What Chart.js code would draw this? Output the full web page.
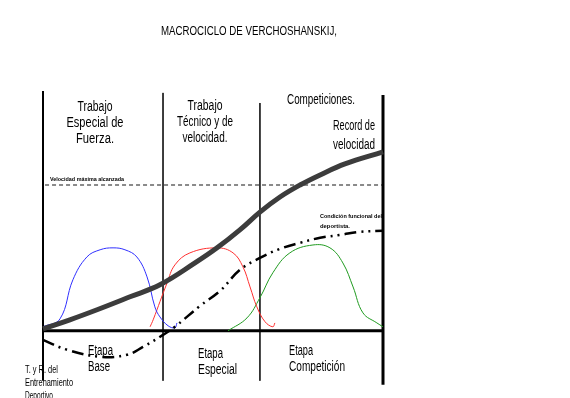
<!DOCTYPE html>
<html lang="es">
<head>
<meta charset="UTF-8">
<title>Macrociclo de Verchoshanskij</title>
<script src="https://cdn.jsdelivr.net/npm/chart.js@4.4.0/dist/chart.umd.min.js"></script>
<style>
  body { margin: 0; background: #fff; }
</style>
</head>
<body>
<canvas id="chart" width="570" height="398"></canvas>
<script>
// x: 0..100 = duración del macrociclo, y: nivel (0 = línea base)
var stageX = [0, 35.3, 63.8, 100];
var maxSpeedY = 60.8;

var speedX = [0, 7.9, 15.9, 25.6, 34.4, 44.7, 51.2, 57.9, 63.8, 69.7, 75.6, 81.5, 88.8, 100];
var speedY = [0.8, 4.6, 8.8, 14.2, 19.2, 28.3, 34.6, 42.1, 49.5, 55.8, 60.8, 65, 69.6, 74.6];

var condX = [0, 7.1, 16.8, 24.7, 29.4, 35.3, 38.8, 46.2, 52.1, 57.9, 63.8, 69.7, 75.6, 81.5, 87.4, 93.2, 100];
var condY = [-3.8, -7.9, -10.8, -10, -6.7, -1.7, 1.7, 10.4, 16.7, 25.4, 30.4, 34.2, 36.7, 38.8, 40, 41.3, 41.7];

var forceX = [0, 5, 8.8, 12.9, 16.8, 20.6, 24.1, 27.6, 30.6, 32.9, 34.4, 36.8, 38.8, 39.4];
var forceY = [1.7, 5, 21.3, 30.8, 33.8, 34.6, 33.8, 30.8, 22.5, 10, 5.8, 2.1, 1.3, 3.3];

var techX = [31.5, 32.4, 36.5, 38.8, 43.2, 51.2, 55.9, 58.8, 60.9, 62.9, 65.3, 67.6, 68.2];
var techY = [1.7, 4.6, 20, 27.5, 32.5, 34.6, 32.5, 26.7, 18.3, 10, 3.8, 1.7, 3.3];

var compX = [54.4, 60, 63.8, 67.6, 72.6, 79.4, 84.4, 88.2, 91.2, 94.1, 98.2, 100];
var compY = [0, 5.4, 13.8, 24.2, 32.5, 35.8, 34.6, 28.3, 18.3, 7.5, 3.3, 1.7];

var title = 'MACROCICLO DE VERCHOSHANSKIJ,';
var workLabels = [['Trabajo', 'Especial de', 'Fuerza.'], ['Trabajo', 'Técnico y de', 'velocidad.'], ['Competiciones.']];
var stageLabels = [['Etapa', 'Base'], ['Etapa', 'Especial'], ['Etapa', 'Competición']];
var recordLabel = ['Record de', 'velocidad'];
var maxSpeedLabel = 'Velocidad máxima alcanzada';
var conditionLabel = ['Condición funcional del', 'deportista.'];
var sourceLabel = ['T. y R. del', 'Entrenamiento', 'Deportivo'];

function pts(xs, ys) {
  return xs.map(function (x, i) { return { x: x, y: ys[i] }; });
}

function seg(x1, y1, x2, y2, color, width, order) {
  return {
    data: [{ x: x1, y: y1 }, { x: x2, y: y2 }],
    borderColor: color, borderWidth: width, tension: 0, order: order
  };
}

function curve(xs, ys, color, width, order, dash) {
  return {
    data: pts(xs, ys),
    borderColor: color, borderWidth: width, order: order,
    tension: 0.4,
    borderDash: dash || [], borderCapStyle: 'butt'
  };
}

var SANS = "'Liberation Sans', Arial, sans-serif";

// squeeze text horizontally so it spans w pixels (Arial Narrow look)
function fit(ctx, text, x, y, w) {
  var sx = w / ctx.measureText(text).width;
  ctx.save();
  ctx.translate(x, y);
  ctx.scale(sx, 1);
  ctx.fillText(text, 0, 0);
  ctx.restore();
}

var textPlugin = {
  id: 'texts',
  afterDraw: function (chart) {
    var ctx = chart.ctx;
    ctx.save();
    ctx.fillStyle = '#000';
    ctx.textBaseline = 'alphabetic';

    ctx.font = '12px ' + SANS;
    ctx.textAlign = 'center';
    fit(ctx, title, 249, 35, 176);

    ctx.font = '14px ' + SANS;
    var w1 = [35, 57, 38], w2 = [35, 56, 45];
    workLabels[0].forEach(function (t, i) { fit(ctx, t, 95, 111 + i * 16, w1[i]); });
    workLabels[1].forEach(function (t, i) { fit(ctx, t, 205, 110 + i * 16, w2[i]); });
    fit(ctx, workLabels[2][0], 321, 104, 68);
    fit(ctx, recordLabel[0], 354, 130, 42);
    fit(ctx, recordLabel[1], 354, 149, 42);

    ctx.textAlign = 'left';
    var stX = [88, 198, 289];
    var stBase = [355, 358, 355];
    var stW = [[25, 22], [25, 39], [24, 56]];
    stageLabels.forEach(function (lines, s) {
      lines.forEach(function (t, i) { fit(ctx, t, stX[s], stBase[s] + i * 16, stW[s][i]); });
    });

    ctx.font = '10px ' + SANS;
    var srcW = [33, 48, 28];
    sourceLabel.forEach(function (t, i) { fit(ctx, t, 25, 373 + i * 13, srcW[i]); });

    ctx.font = 'bold 6px ' + SANS;
    fit(ctx, maxSpeedLabel, 50, 181, 74);
    fit(ctx, conditionLabel[0], 320, 218, 62);
    fit(ctx, conditionLabel[1], 320, 228, 30);
    ctx.restore();
  }
};

var datasets = [
  seg(stageX[0], 100, stageX[0], -20.8, '#000', 2, 5),
  seg(stageX[1], 99.2, stageX[1], -20.8, '#222', 1, 5),
  seg(stageX[2], 95, stageX[2], -20.8, '#222', 1, 5),
  seg(stageX[3], 98.3, stageX[3], -22.5, '#000', 3, 5),
  seg(0, 0, 100, 0, '#000', 3, 4),
  Object.assign(seg(0.6, maxSpeedY, 100, maxSpeedY, '#8a8a8a', 2, 6), { borderDash: [4, 3] }),
  curve(forceX, forceY, '#2f2fff', 1, 3),
  curve(techX, techY, '#ff3030', 1, 3),
  curve(compX, compY, '#1f9a1f', 1, 3),
  curve(condX, condY, '#000', 2.5, 2, [12, 5, 2, 5, 2, 5]),
  curve(speedX, speedY, '#3c3c3c', 5, 1)
];
datasets.forEach(function (d) {
  d.showLine = true; d.pointRadius = 0; d.fill = false; d.clip = false;
});

new Chart(document.getElementById('chart'), {
  type: 'scatter',
  data: { datasets: datasets },
  options: {
    responsive: false,
    animation: false,
    layout: { padding: { left: 43, right: 187, top: 91, bottom: 0 } },
    plugins: { legend: { display: false }, tooltip: { enabled: false } },
    scales: {
      x: { type: 'linear', min: 0, max: 100, display: false },
      y: { type: 'linear', min: -28, max: 100, display: false }
    }
  },
  plugins: [textPlugin]
});
</script>
</body>
</html>
